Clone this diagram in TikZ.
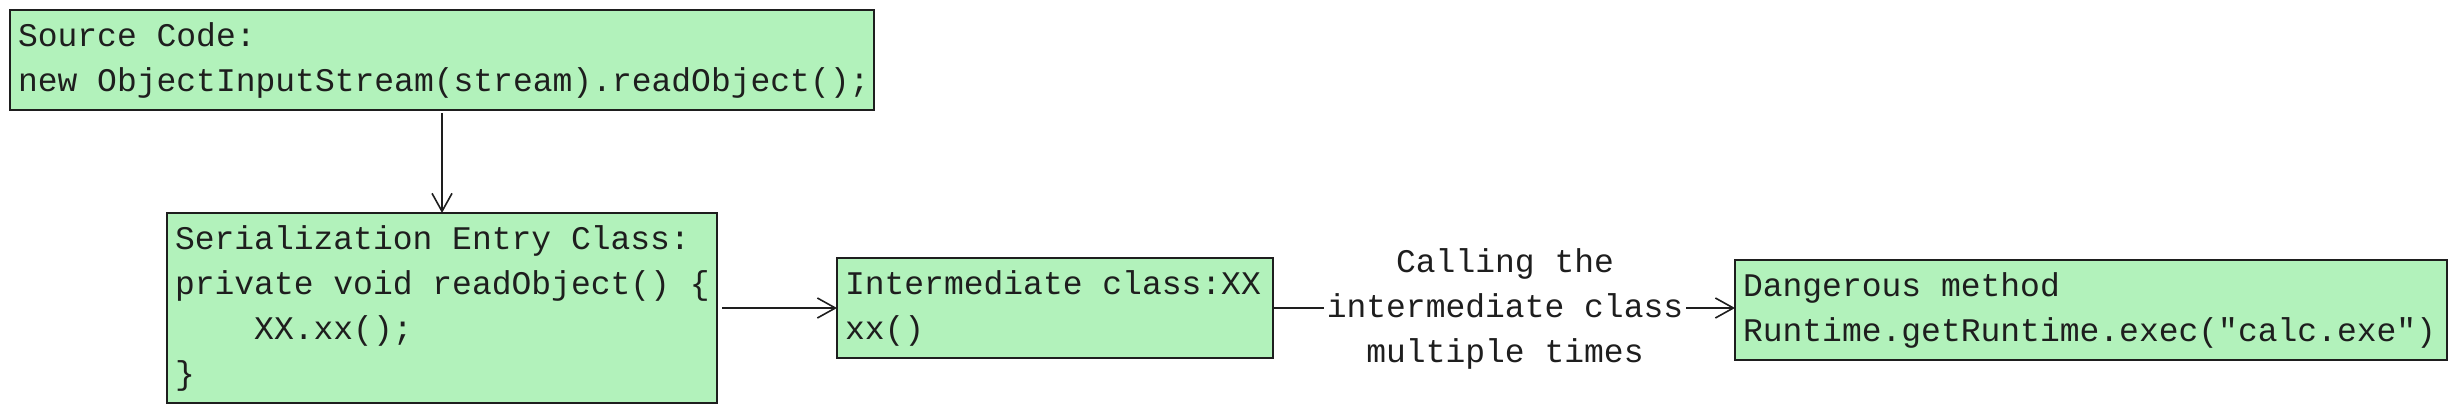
\documentclass[tikz,border=0pt]{standalone}
\usepackage{fontspec}
\newfontfamily\codefont{Liberation Mono}
\usetikzlibrary{arrows.meta}
\definecolor{boxfill}{HTML}{B2F2BB}
\definecolor{ink}{HTML}{1E1E1E}
\newcommand\codesetup{\codefont\fontsize{33}{45}\selectfont}
\newcommand\ws{\char32\relax}
\hbadness=10000 \hfuzz=20pt
\begin{document}
\begin{tikzpicture}[x=1pt,y=-1pt,
  codefont/.style={font=\codesetup, text=ink},
  codebox/.style={codefont, draw=ink, fill=boxfill, line width=2pt, rectangle,
    anchor=north west, outer sep=0pt, inner xsep=8pt, inner ysep=0pt, align=left},
  conn/.style={draw=ink, line width=1.6pt},
  arr/.style={conn, -{Straight Barb[length=18pt,width=20pt]}}
]
\useasboundingbox (0,0) rectangle (2456,413);

\node[codebox, minimum width=864pt, minimum height=100pt, text width=848pt] (src) at (10,10)
  {\strut Source\ws Code:\\\strut new\ws ObjectInputStream(stream).readObject();};

\node[codebox, minimum width=550pt, minimum height=190pt, text width=534pt] (ser) at (167,213)
  {\strut Serialization\ws Entry\ws Class:\\\strut private\ws void\ws readObject()\ws\{\\\strut\ws\ws\ws\ws XX.xx();\\\strut\}};

\node[codebox, minimum width=436pt, minimum height=100pt, text width=420pt] (inter) at (837,258)
  {\strut Intermediate\ws class:XX\\\strut xx()};

\node[codebox, minimum width=712pt, minimum height=100pt, text width=696pt] (dang) at (1735,260)
  {\strut Dangerous\ws method\\\strut Runtime.getRuntime.exec("calc.exe")};

\node[codefont, align=center, inner xsep=3pt, inner ysep=0pt, outer sep=0pt] (lbl) at (1505,308)
  {\strut Calling\ws the\\\strut intermediate\ws class\\\strut multiple\ws times};

\draw[arr, shorten <=3pt] (src.south) -- (ser.north);
\draw[arr, shorten <=5pt] (ser.east) -- (inter.west);
\draw[conn] (inter.east) -- (lbl.west);
\draw[arr] (lbl.east) -- (lbl.east -| dang.west);
\end{tikzpicture}
\end{document}
